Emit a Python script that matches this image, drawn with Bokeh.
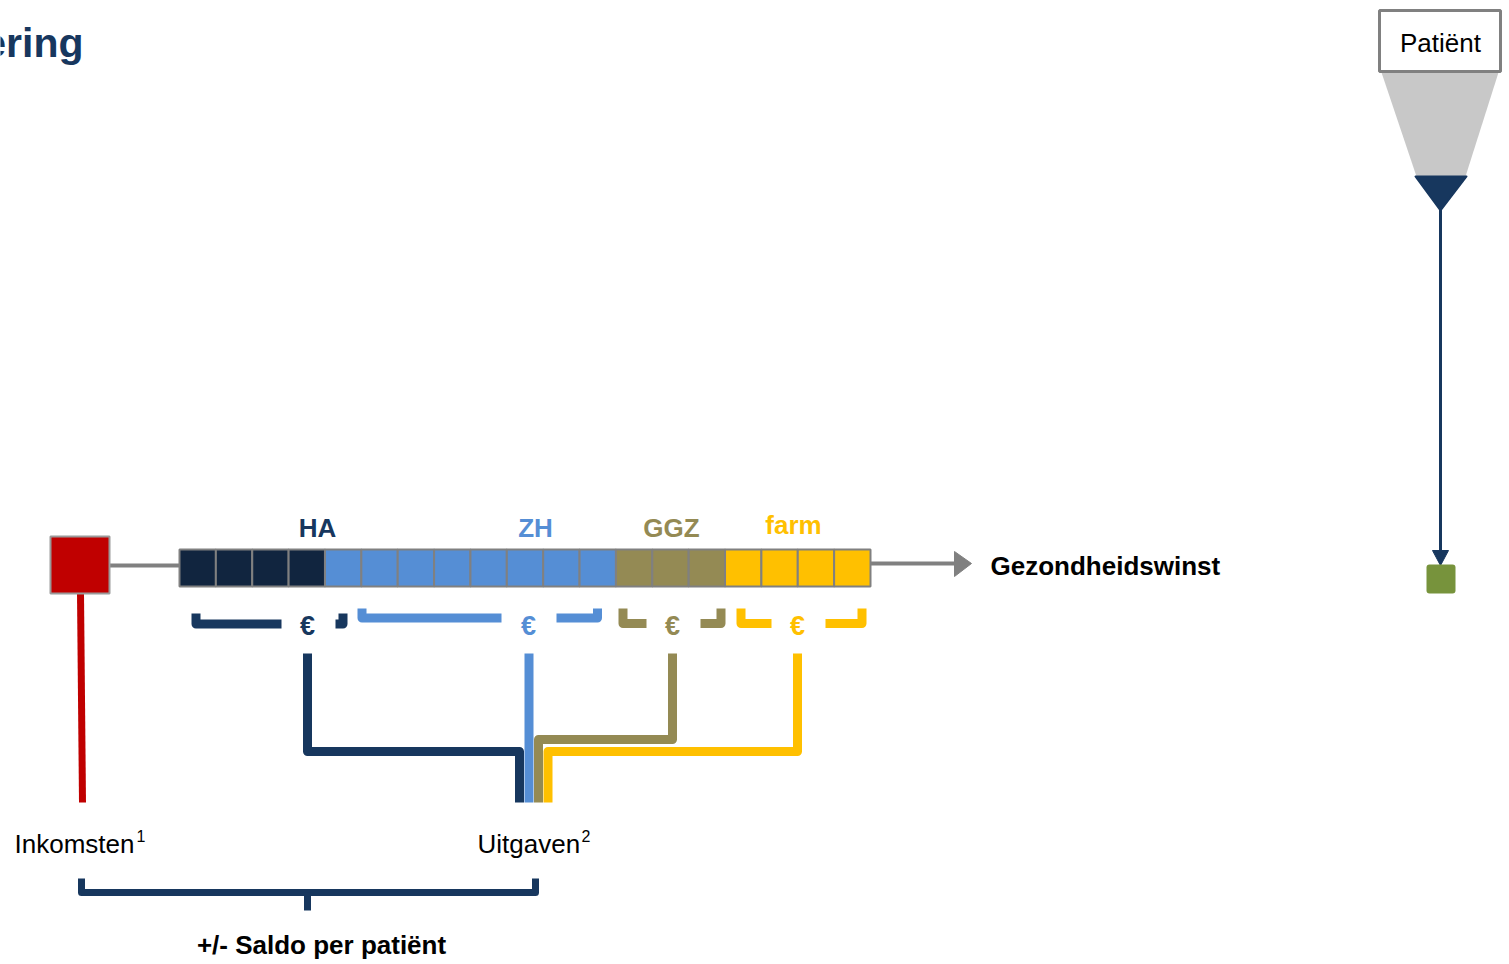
from bokeh.plotting import figure
from bokeh.models import Range1d
from bokeh.core.properties import value
from bokeh.embed import file_html
from bokeh.resources import INLINE

# ---------------- data ----------------
segment_names = ["HA", "ZH", "GGZ", "farm"]
segment_cells = [4, 8, 3, 4]
segment_fill = ["#11253F", "#558ED5", "#948A54", "#FFC000"]
segment_text = ["#17375E", "#558ED5", "#948A54", "#FFC000"]
euro_label = "€"
title_text = "ering"
patient_text = "Patiënt"
outcome_text = "Gezondheidswinst"
income_text = "Inkomsten"
expense_text = "Uitgaven"
saldo_text = "+/- Saldo per patiënt"

NAVY = "#17375E"
GRAY = "#808080"
FONT = "Liberation Sans"

W, H = 1509, 964
p = figure(width=W, height=H, output_backend="svg", toolbar_location=None,
           x_range=Range1d(0, W), y_range=Range1d(H, 0),
           x_axis_location=None, y_axis_location=None, min_border=0)
p.grid.visible = False
p.outline_line_color = None

# title fragment
p.text(x=[83], y=[42], text=[title_text], text_align="right", text_baseline="middle",
       text_font=value(FONT), text_font_style="bold", text_font_size="41px", text_color=NAVY)

# red income square and connectors
p.line(x=[109, 179], y=[565, 565], line_color=GRAY, line_width=4)
p.line(x=[80, 82], y=[593, 802], line_color="#C00000", line_width=7)
p.quad(left=[50], right=[109], top=[536], bottom=[593], fill_color="#C00000",
       line_color="#9A9A9A", line_width=2)

# bar of cells
bar_left, bar_right = 179.0, 870.0
total = sum(segment_cells)
cw = (bar_right - bar_left) / total
lefts, rights, fills = [], [], []
k = 0
for n, c in zip(segment_cells, segment_fill):
    for i in range(n):
        lefts.append(bar_left + (k + i) * cw)
        rights.append(bar_left + (k + i + 1) * cw)
        fills.append(c)
    k += n
p.quad(left=lefts, right=rights, top=[549] * len(lefts), bottom=[586] * len(lefts),
       fill_color=fills, line_color=GRAY, line_width=2)

# segment labels
lab_x = [317, 535, 671, 793]
lab_y = [527, 527, 527, 524]
p.text(x=lab_x, y=lab_y, text=segment_names, text_color=segment_text,
       text_align="center", text_baseline="middle", text_font=value(FONT),
       text_font_style="bold", text_font_size="26px")

# brackets under the segments
br_xs = [
    [195.5, 195.5, 281], [335, 342.5, 342.5],
    [361.5, 361.5, 501], [556, 597, 597],
    [622.5, 622.5, 646], [700, 720.5, 720.5],
    [740.5, 740.5, 771], [825, 861.5, 861.5],
]
br_ys = [
    [613, 623.5, 623.5], [623.5, 623.5, 613],
    [608, 617.5, 617.5], [617.5, 617.5, 608],
    [608, 623, 623], [623, 623, 608],
    [608, 623, 623], [623, 623, 608],
]
br_col = [NAVY] * 2 + [segment_fill[1]] * 2 + [segment_fill[2]] * 2 + [segment_fill[3]] * 2
p.multi_line(xs=br_xs, ys=br_ys, line_color=br_col, line_width=9, line_join="round")

euro_x = [307, 528, 672, 797]
p.text(x=euro_x, y=[625] * 4, text=[euro_label] * 4,
       text_color=[NAVY, "#558ED5", "#948A54", "#FFC000"],
       text_align="center", text_baseline="middle", text_font=value(FONT),
       text_font_style="bold", text_font_size="27px")

# connector lines to Uitgaven
con_xs = [[307, 307, 519, 519], [528.5, 528.5], [672, 672, 538, 538], [797, 797, 547.5, 547.5]]
con_ys = [[653, 751, 751, 802], [653, 802], [653, 739, 739, 802], [653, 751, 751, 802]]
p.multi_line(xs=con_xs, ys=con_ys, line_color=[NAVY, "#558ED5", "#948A54", "#FFC000"],
             line_width=9, line_join="round")

# arrow to outcome
p.line(x=[870, 956], y=[563, 563], line_color=GRAY, line_width=4)
p.patch(x=[954, 954, 971], y=[551, 576, 563], fill_color=GRAY, line_color=GRAY)
p.text(x=[990], y=[565], text=[outcome_text], text_align="left", text_baseline="middle",
       text_font=value(FONT), text_font_style="bold", text_font_size="26px", text_color="black")

# income / expense labels
p.text(x=[14, 477], y=[843, 843], text=[income_text, expense_text], text_align="left",
       text_baseline="middle", text_font=value(FONT), text_font_size="26px", text_color="black")
p.text(x=[136, 581], y=[835, 835], text=["1", "2"], text_align="left",
       text_baseline="middle", text_font=value(FONT), text_font_size="16px", text_color="black")

# brace
p.multi_line(xs=[[81, 81, 535, 535], [307, 307]], ys=[[878, 892, 892, 878], [892, 910]],
             line_color=NAVY, line_width=7, line_join="round")
p.text(x=[321], y=[944], text=[saldo_text], text_align="center", text_baseline="middle",
       text_font=value(FONT), text_font_style="bold", text_font_size="26px", text_color="black")

# patient funnel on the right
p.patch(x=[1381, 1498, 1465, 1416], y=[72, 72, 176, 176], fill_color="#C8C8C8", line_color=None)
p.quad(left=[1379], right=[1500], top=[10], bottom=[71], fill_color="white",
       line_color=GRAY, line_width=3)
p.text(x=[1440], y=[42], text=[patient_text], text_align="center", text_baseline="middle",
       text_font=value(FONT), text_font_size="26px", text_color="black")
p.patch(x=[1415, 1466, 1440], y=[176, 176, 210], fill_color=NAVY, line_color=NAVY,
        line_join="round", line_width=2)
p.line(x=[1440, 1440], y=[205, 552], line_color=NAVY, line_width=3)
p.patch(x=[1432, 1448, 1440], y=[550, 550, 565], fill_color=NAVY, line_color=NAVY)
p.quad(left=[1426], right=[1455], top=[564], bottom=[593], fill_color="#77933C",
       line_color=None, border_radius=3)

open("out.html", "w").write(file_html(p, INLINE))
